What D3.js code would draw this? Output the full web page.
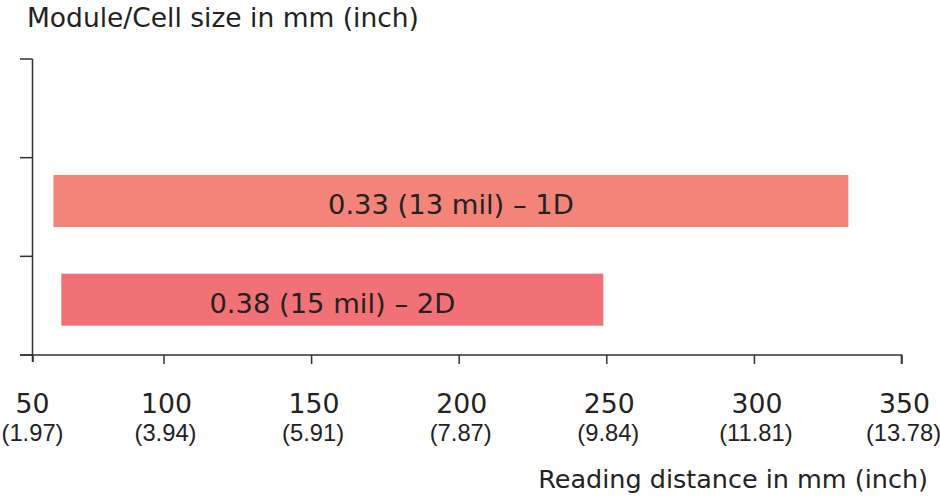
<!DOCTYPE html>
<html><head><meta charset="utf-8">
<script src="https://cdn.jsdelivr.net/npm/d3@7"></script>
<style>body{margin:0;background:#fff}svg{display:block}text{font-family:"DejaVu Sans",sans-serif;fill:#222}.narrow{font-family:"Liberation Sans",Arial,sans-serif}</style>
</head><body><svg id="c" width="940" height="498"></svg>
<script>
const barLabels = ["0.33 (13 mil) – 1D", "0.38 (15 mil) – 2D"];
const barStart = [58, 61];
const barEnd = [332, 249];
const barColors = ["#f48379", "#f17176"];
const tickMM = [50, 100, 150, 200, 250, 300, 350];
const tickInch = ["(1.97)", "(3.94)", "(5.91)", "(7.87)", "(9.84)", "(11.81)", "(13.78)"];
const yTitle = "Module/Cell size in mm (inch)";
const xTitle = "Reading distance in mm (inch)";

const svg = d3.select("#c");
const x = d3.scaleLinear().domain([50, 100, 350]).range([32.5, 163.5, 901.5]);
const yLin = d3.scaleLinear().domain([0, 3]).range([59, 355]);

function fitSize(sample, targetW, cls) {
  const t = svg.append("text").attr("class", cls || null).style("font-size", "20px").text(sample);
  const w = t.node().getComputedTextLength();
  t.remove();
  return 20 * targetW / w;
}
const fsTitle = fitSize(yTitle, 392);
const fsXTitle = fitSize(xTitle, 390);
const fsMM = fitSize("100", 51);
const fsInch = fitSize("(1.97)", 62, "narrow");
const fsBar = fitSize(barLabels[0], 246);

const axisStroke = "#333";
svg.append("line").attr("x1", 32.5).attr("x2", 32.5).attr("y1", 59).attr("y2", 362).attr("stroke", axisStroke).attr("stroke-width", 1.5);
[0,1,2,3].forEach(i => {
  svg.append("line").attr("x1", 20).attr("x2", 32.5).attr("y1", yLin(i)).attr("y2", yLin(i)).attr("stroke", axisStroke).attr("stroke-width", 1.5);
});
const xAxis = d3.axisBottom(x).tickValues(tickMM).tickSize(9).tickFormat("");
const gx = svg.append("g").attr("transform", "translate(0,355)").call(xAxis);
gx.select(".domain").attr("d", "M20,0H901.5V9").attr("stroke", axisStroke).attr("stroke-width", 1.5);
gx.selectAll(".tick line").attr("stroke", axisStroke).attr("stroke-width", 1.5);
gx.selectAll(".tick").filter(d => d === 50).select("line").attr("y2", 7);

tickMM.forEach((v, i) => {
  svg.append("text").attr("x", x(v) + (i === 0 ? 0 : 3)).attr("y", 413).attr("text-anchor", "middle").style("font-size", fsMM + "px").text(v);
  svg.append("text").attr("class", "narrow").attr("x", x(v) + (i === 0 ? 0 : 2)).attr("y", 441).attr("text-anchor", "middle").style("font-size", fsInch + "px").text(tickInch[i]);
});

const rowC = [1.5, 2.5];
barLabels.forEach((lab, i) => {
  const cy = yLin(rowC[i]) - 6;
  const h = 52;
  svg.append("rect").attr("x", x(barStart[i])).attr("y", cy - h/2).attr("width", x(barEnd[i]) - x(barStart[i])).attr("height", h)
    .attr("fill", barColors[i]);
  svg.append("text").attr("x", (x(barStart[i]) + x(barEnd[i])) / 2).attr("y", cy + 13).attr("text-anchor", "middle")
    .style("font-size", fsBar + "px").text(lab);
});

svg.append("text").attr("x", 27).attr("y", 27).style("font-size", fsTitle + "px").text(yTitle);
svg.append("text").attr("x", 928).attr("y", 488).attr("text-anchor", "end").style("font-size", fsXTitle + "px").text(xTitle);
</script></body></html>
